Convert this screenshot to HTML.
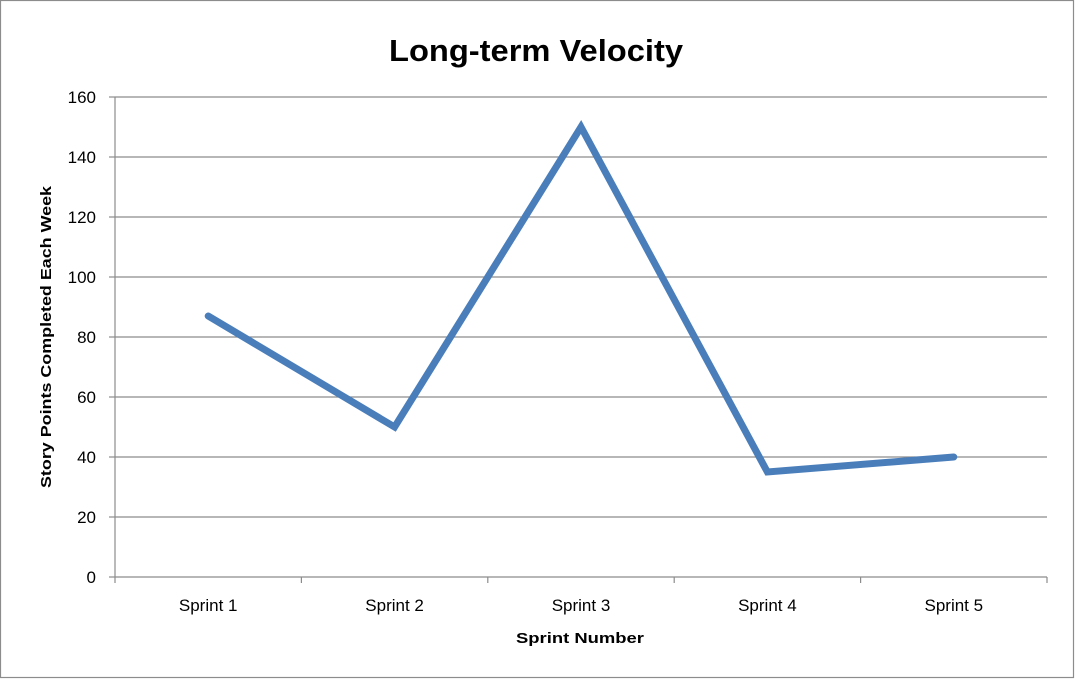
<!DOCTYPE html>
<html><head><meta charset="utf-8"><style>
html,body{margin:0;padding:0;background:#fff;}
svg{display:block;font-family:"Liberation Sans",sans-serif;}
</style></head><body>
<svg id="chart" width="1075" height="679" viewBox="0 0 1075 679">
<rect x="0.5" y="0.5" width="1073" height="677" fill="#fff" stroke="#8c8c8c" stroke-width="1.2"/>
<text x="536" y="61" text-anchor="middle" font-size="31" font-weight="bold" textLength="294" lengthAdjust="spacingAndGlyphs">Long-term Velocity</text>
<g id="grid"></g>
<g id="axes"></g>
<g id="series"></g>
<text transform="translate(51,337) rotate(-90)" text-anchor="middle" font-size="15" font-weight="bold" textLength="302" lengthAdjust="spacingAndGlyphs">Story Points Completed Each Week</text>
<text x="580" y="643" text-anchor="middle" font-size="15" font-weight="bold" textLength="128" lengthAdjust="spacingAndGlyphs">Sprint Number</text>
</svg>
<script>
const categories = ["Sprint 1","Sprint 2","Sprint 3","Sprint 4","Sprint 5"];
const velocity = [87, 50, 150, 35, 40];
const yTicks = [0, 20, 40, 60, 80, 100, 120, 140, 160];
const NS = "http://www.w3.org/2000/svg";
const X0 = 115, X1 = 1047, Y0 = 577, Y1 = 97, YMAX = 160;
const band = (X1 - X0) / categories.length;
function xPos(i){ return X0 + band * (i + 0.5); }
function yPos(v){ return Y0 - (v / YMAX) * (Y0 - Y1); }
function mk(tag, attrs, parent){ const e = document.createElementNS(NS, tag); for (const k in attrs) e.setAttribute(k, attrs[k]); parent.appendChild(e); return e; }
const grid = document.getElementById('grid'), axes = document.getElementById('axes'), series = document.getElementById('series');
yTicks.forEach(t => {
  const y = yPos(t);
  if (t > 0) {
    const g = mk('line', {x1: X0, x2: X1, y1: y, y2: y, stroke: '#8c8c8c', 'stroke-width': 1.2}, grid);
    
    
  }
  const tk = mk('line', {x1: X0 - 6, x2: X0, y1: y, y2: y, stroke: '#8c8c8c', 'stroke-width': 1.2}, axes);
  
  
  const lb = mk('text', {x: X0 - 19, y: y + 6, 'text-anchor': 'end', 'font-size': 17}, axes);
  lb.textContent = t;
  
  
});
const ya = mk('line', {x1: X0, x2: X0, y1: Y1, y2: Y0, stroke: '#8c8c8c', 'stroke-width': 1.2}, axes);


const xa = mk('line', {x1: X0, x2: X1, y1: Y0, y2: Y0, stroke: '#8c8c8c', 'stroke-width': 1.2}, axes);


for (let i = 0; i <= categories.length; i++) {
  const x = X0 + band * i;
  const tk = mk('line', {x1: x, x2: x, y1: Y0, y2: Y0 + 6, stroke: '#8c8c8c', 'stroke-width': 1.2}, axes);
  
  
}
categories.forEach((c, i) => {
  const lb = mk('text', {x: xPos(i), y: Y0 + 34, 'text-anchor': 'middle', 'font-size': 17}, axes);
  lb.textContent = c;
  
  
});
const pts = velocity.map((v, i) => xPos(i) + ',' + yPos(v)).join(' ');
const pl = mk('polyline', {points: pts, fill: 'none', stroke: '#4a7ebb', 'stroke-width': 7, 'stroke-linejoin': 'miter', 'stroke-linecap': 'round'}, series);


</script>
</body></html>
